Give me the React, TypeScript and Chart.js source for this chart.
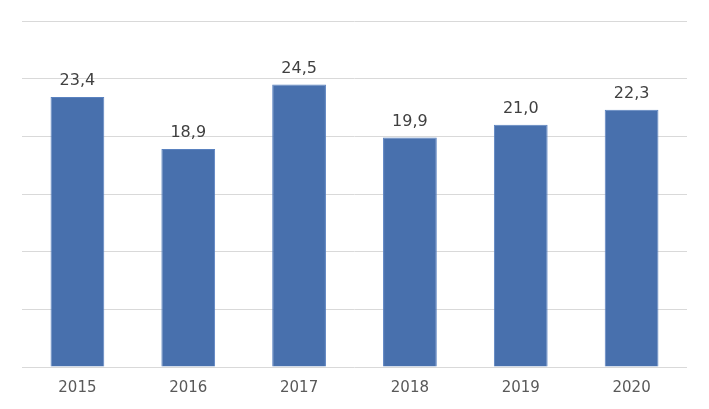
import React, { useEffect, useRef } from "react";
import { Chart, registerables } from "chart.js";

Chart.register(...registerables);

const categories = ["2015", "2016", "2017", "2018", "2019", "2020"];
const values = [23.4, 18.9, 24.5, 19.9, 21.0, 22.3];
const yMin = 0;
const yMax = 30;
const yStep = 5;

const labelPlugin = {
  id: "barLabels",
  afterDatasetsDraw(chart: any) {
    const ctx = chart.ctx;
    const meta = chart.getDatasetMeta(0);
    ctx.save();
    ctx.font = "16px 'DejaVu Sans', Verdana, sans-serif";
    ctx.fillStyle = "#404040";
    ctx.textAlign = "center";
    ctx.textBaseline = "bottom";
    meta.data.forEach((bar: any, i: number) => {
      const v = values[i];
      ctx.fillText(v.toFixed(1).replace(".", ","), bar.x, bar.y - 8);
    });
    ctx.restore();
  },
};

export default function App() {
  const ref = useRef<HTMLCanvasElement | null>(null);
  useEffect(() => {
    document.body.style.margin = "0";
    const chart = new Chart(ref.current as HTMLCanvasElement, {
      type: "bar",
      data: {
        labels: categories,
        datasets: [
          {
            data: values,
            backgroundColor: "#4870ad",
            borderColor: "#5a82c0",
            borderWidth: 1,
            categoryPercentage: 0.97,
            barPercentage: 0.5,
          },
        ],
      },
      options: {
        animation: false,
        responsive: false,
        maintainAspectRatio: false,
        layout: { padding: { left: 22, right: 22, top: 21, bottom: 8 } },
        plugins: { legend: { display: false }, tooltip: { enabled: false } },
        scales: {
          x: {
            grid: { display: false },
            border: { display: false },
            ticks: {
              color: "#595959",
              padding: 4,
              font: { family: "'DejaVu Sans', Verdana, sans-serif", size: 15 },
            },
          },
          y: {
            min: yMin,
            max: yMax,
            ticks: { display: false, stepSize: yStep },
            grid: { color: "#d9d9d9", lineWidth: 1, drawTicks: false },
            border: { display: false },
          },
        },
      },
      plugins: [labelPlugin],
    });
    return () => chart.destroy();
  }, []);
  return (
    <div style={{ position: "absolute", left: 0, top: 0, width: 709, height: 409, background: "#fff" }}>
      <canvas ref={ref} width={709} height={409} />
    </div>
  );
}
